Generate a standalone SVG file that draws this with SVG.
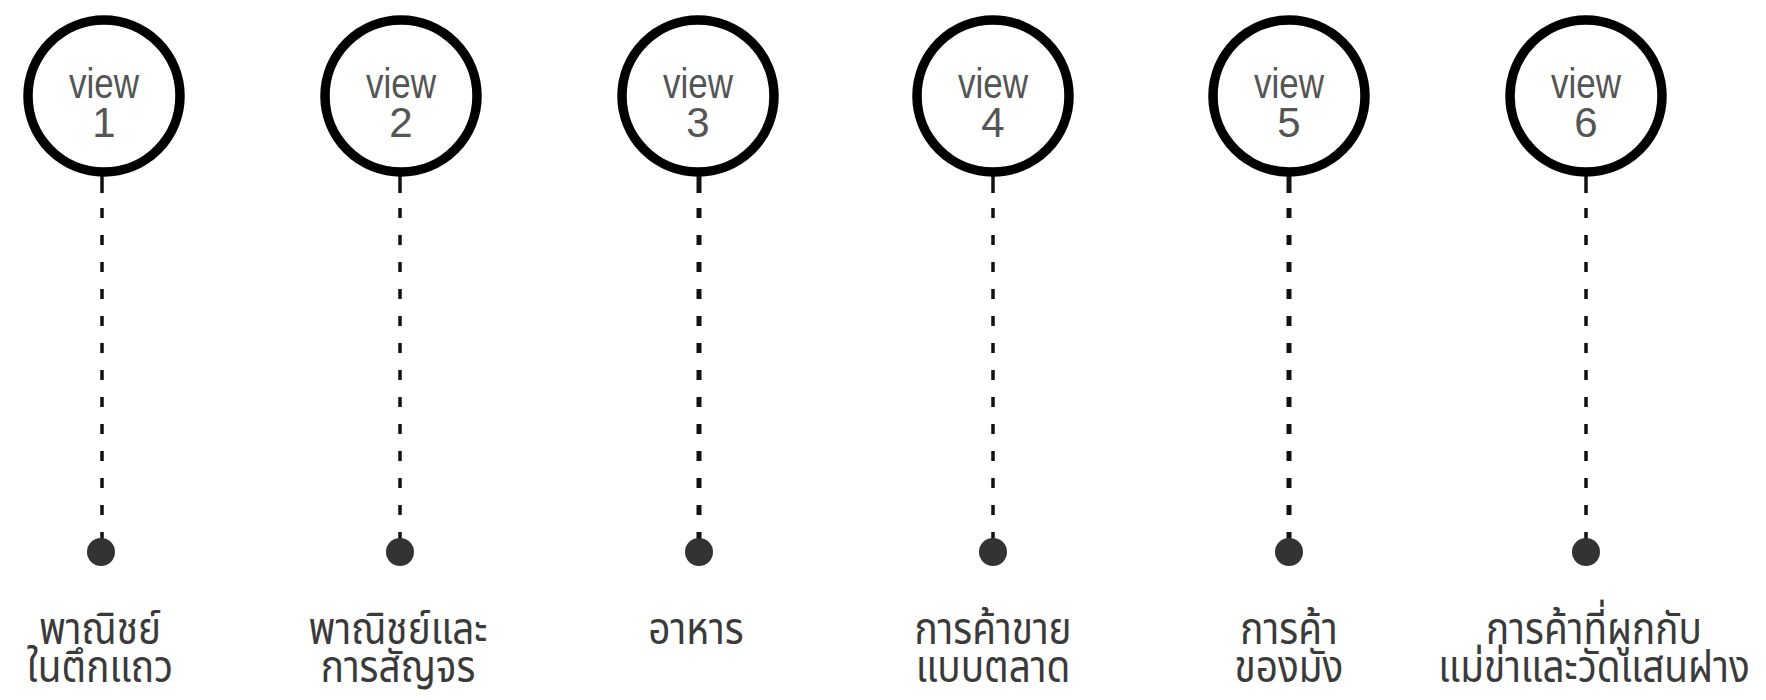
<svg xmlns="http://www.w3.org/2000/svg" width="1766" height="700" viewBox="0 0 1766 700">
<style>
.ring{fill:#fff;stroke:#000;stroke-width:9.5}
.dot{fill:#333}
.vt{font-family:"Liberation Sans",Arial,sans-serif;font-size:42px;fill:#555;text-anchor:middle}
.lb{font-family:"Noto Sans Thai","Noto Sans","DejaVu Sans",sans-serif;font-size:44px;fill:#3a3a3a;text-anchor:middle}
.ln{stroke:#111;stroke-width:3.5;fill:none}
.dash{stroke-dasharray:10 17}
.thick{stroke-width:5}
</style>
<rect width="1766" height="700" fill="#fff"/>
<g id="connectors">
<line class="ln" x1="102" y1="172" x2="102" y2="193"/><line class="ln dash" x1="102" y1="208" x2="102" y2="545"/>
<line class="ln" x1="400" y1="172" x2="400" y2="193"/><line class="ln dash" x1="400" y1="208" x2="400" y2="545"/>
<line class="ln thick" x1="699" y1="172" x2="699" y2="193"/><line class="ln dash thick" x1="699" y1="208" x2="699" y2="545"/>
<line class="ln" x1="993" y1="172" x2="993" y2="193"/><line class="ln dash" x1="993" y1="208" x2="993" y2="545"/>
<line class="ln thick" x1="1289" y1="172" x2="1289" y2="193"/><line class="ln dash thick" x1="1289" y1="208" x2="1289" y2="545"/>
<line class="ln" x1="1586" y1="172" x2="1586" y2="193"/><line class="ln dash" x1="1586" y1="208" x2="1586" y2="545"/>
</g>
<g id="view1">
<circle class="ring" cx="104" cy="96" r="76"/>
<text class="vt" x="104" y="98" textLength="70" lengthAdjust="spacingAndGlyphs">view</text>
<text class="vt" x="104" y="137">1</text>
</g>
<g id="view2">
<circle class="ring" cx="401" cy="96" r="76"/>
<text class="vt" x="401" y="98" textLength="70" lengthAdjust="spacingAndGlyphs">view</text>
<text class="vt" x="401" y="137">2</text>
</g>
<g id="view3">
<circle class="ring" cx="698" cy="96" r="76"/>
<text class="vt" x="698" y="98" textLength="70" lengthAdjust="spacingAndGlyphs">view</text>
<text class="vt" x="698" y="137">3</text>
</g>
<g id="view4">
<circle class="ring" cx="993" cy="96" r="76"/>
<text class="vt" x="993" y="98" textLength="70" lengthAdjust="spacingAndGlyphs">view</text>
<text class="vt" x="993" y="137">4</text>
</g>
<g id="view5">
<circle class="ring" cx="1289" cy="96" r="76"/>
<text class="vt" x="1289" y="98" textLength="70" lengthAdjust="spacingAndGlyphs">view</text>
<text class="vt" x="1289" y="137">5</text>
</g>
<g id="view6">
<circle class="ring" cx="1586" cy="96" r="76"/>
<text class="vt" x="1586" y="98" textLength="70" lengthAdjust="spacingAndGlyphs">view</text>
<text class="vt" x="1586" y="137">6</text>
</g>
<g id="point1"><circle class="dot" cx="101" cy="552" r="14"/>
<g transform="translate(100,0) scale(0.88,1)"><text class="lb" x="0" y="644">พาณิชย์</text><text class="lb" x="0" y="682">ในตึกแถว</text></g></g>
<g id="point2"><circle class="dot" cx="400" cy="552" r="14"/>
<g transform="translate(398,0) scale(0.88,1)"><text class="lb" x="0" y="644">พาณิชย์และ</text><text class="lb" x="0" y="682">การสัญจร</text></g></g>
<g id="point3"><circle class="dot" cx="699" cy="552" r="14"/>
<g transform="translate(696,0) scale(0.88,1)"><text class="lb" x="0" y="644">อาหาร</text></g></g>
<g id="point4"><circle class="dot" cx="993" cy="552" r="14"/>
<g transform="translate(993,0) scale(0.88,1)"><text class="lb" x="0" y="644">การค้าขาย</text><text class="lb" x="0" y="682">แบบตลาด</text></g></g>
<g id="point5"><circle class="dot" cx="1289" cy="552" r="14"/>
<g transform="translate(1289,0) scale(0.88,1)"><text class="lb" x="0" y="644">การค้า</text><text class="lb" x="0" y="682">ของมัง</text></g></g>
<g id="point6"><circle class="dot" cx="1586" cy="552" r="14"/>
<g transform="translate(1594,0) scale(0.88,1)"><text class="lb" x="0" y="644">การค้าที่ผูกกับ</text><text class="lb" x="0" y="682">แม่ข่าและวัดแสนฝาง</text></g></g>
</svg>
